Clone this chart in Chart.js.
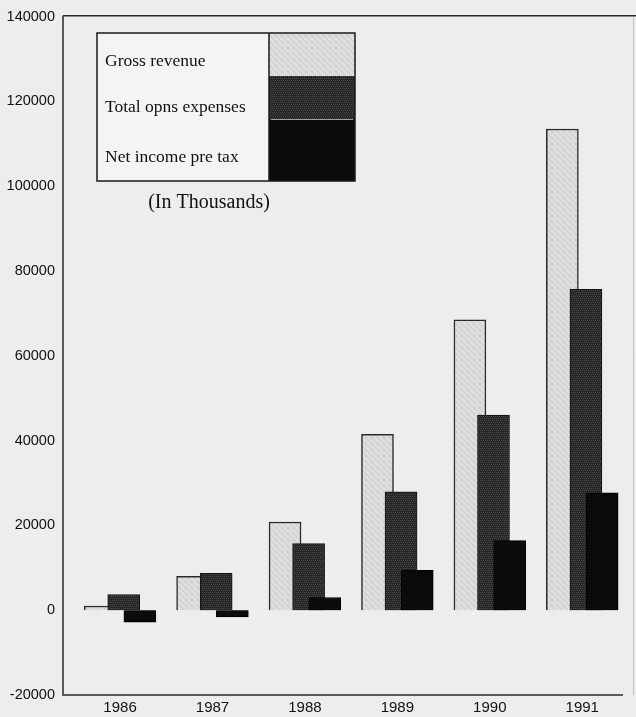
<!DOCTYPE html>
<html>
<head>
<meta charset="utf-8">
<script src="https://cdn.jsdelivr.net/npm/chart.js@4"></script>
<style>
  html, body { margin: 0; padding: 0; background: #ededed; }
  #wrap { width: 636px; height: 717px; }
</style>
</head>
<body>
<div id="wrap"><canvas id="mychart" width="636" height="717"></canvas></div>
<script>
// values in thousands
const years = [1986, 1987, 1988, 1989, 1990, 1991]
const grossRevenue = [1000, 8000, 20800, 41500, 68500, 113500]
const totalOpnsExpenses = [3700, 8700, 15700, 27900, 46000, 75700]
const netIncomePreTax = [-2800, -1600, 3000, 9400, 16400, 27700]
const seriesNames = ['Gross revenue', 'Total opns expenses', 'Net income pre tax']
const yTicks = [-20000, 0, 20000, 40000, 60000, 80000, 100000, 120000, 140000]

// little stipple textures so the bars look like the old print
function makePattern(base, dot, step){
    const c = document.createElement('canvas')
    c.width = 6
    c.height = 6
    const g = c.getContext('2d')
    g.fillStyle = base
    g.fillRect(0, 0, 6, 6)
    g.fillStyle = dot
    for(let y = 0; y < 6; y++){
        for(let x = 0; x < 6; x++){
            if((x * 2 + y * 3) % step === 0) g.fillRect(x, y, 1, 1)
        }
    }
    return g.createPattern(c, 'repeat')
}
const lightFill = makePattern('#dedede', '#cacaca', 5)
const darkFill = makePattern('#262626', '#4a4a4a', 4)
const blackFill = '#0b0b0b'

// bars overlap a bit inside each year, like the original
const offsets = [-0.215, 0.04, 0.215]
function points(values, off){
    return values.map((v, i) => ({x: years[i] + off, y: v}))
}

const serif = "'Liberation Serif', 'DejaVu Serif', serif"
const sans = "'Liberation Sans', Arial, sans-serif"

const frameAndLegend = {
    id: 'frameAndLegend',
    beforeDatasetsDraw(chart){
        const ctx = chart.ctx
        const a = chart.chartArea
        ctx.save()
        // faint right edge
        ctx.strokeStyle = '#c4c4c4'
        ctx.lineWidth = 1
        ctx.beginPath()
        ctx.moveTo(633.5, a.top)
        ctx.lineTo(633.5, a.bottom)
        ctx.stroke()
        ctx.strokeStyle = '#2a2a2a'
        ctx.lineWidth = 1.5
        ctx.beginPath()
        ctx.moveTo(a.left, a.top - 1)
        ctx.lineTo(636, a.top - 1)
        ctx.moveTo(a.left, a.top - 1)
        ctx.lineTo(a.left, a.bottom)
        ctx.lineTo(623, a.bottom)
        ctx.stroke()
        ctx.restore()
    },
    afterDraw(chart){
        const ctx = chart.ctx
        ctx.save()
        // legend box
        ctx.fillStyle = '#f4f4f4'
        ctx.fillRect(97, 33, 172, 148)
        ctx.fillStyle = lightFill
        ctx.fillRect(269, 33, 86, 43)
        ctx.fillStyle = darkFill
        ctx.fillRect(269, 76, 86, 44)
        ctx.fillStyle = blackFill
        ctx.fillRect(269, 120, 86, 61)
        ctx.strokeStyle = '#9a9a9a'
        ctx.lineWidth = 1
        ctx.beginPath()
        ctx.moveTo(271, 119.5)
        ctx.lineTo(353, 119.5)
        ctx.stroke()
        ctx.strokeStyle = '#1a1a1a'
        ctx.lineWidth = 1.5
        ctx.strokeRect(97, 33, 258, 148)
        ctx.beginPath()
        ctx.moveTo(269, 33)
        ctx.lineTo(269, 181)
        ctx.stroke()

        ctx.fillStyle = '#111'
        ctx.font = '17.5px ' + serif
        ctx.textBaseline = 'middle'
        ctx.textAlign = 'left'
        ctx.fillText(seriesNames[0], 105, 61)
        ctx.fillText(seriesNames[1], 105, 107)
        ctx.fillText(seriesNames[2], 105, 157)
        ctx.font = '20px ' + serif
        ctx.textAlign = 'center'
        ctx.fillText('(In Thousands)', 209, 203)
        ctx.restore()
    }
}

const data = {
    datasets: [
        {
            label: seriesNames[0],
            data: points(grossRevenue, offsets[0]),
            backgroundColor: lightFill,
            borderColor: '#2a2a2a',
            borderWidth: 1.5,
            order: 2
        },
        {
            label: seriesNames[1],
            data: points(totalOpnsExpenses, offsets[1]),
            backgroundColor: darkFill,
            borderColor: '#111',
            borderWidth: 1,
            order: 1
        },
        {
            label: seriesNames[2],
            data: points(netIncomePreTax, offsets[2]),
            backgroundColor: blackFill,
            borderColor: '#000',
            borderWidth: 1,
            order: 0
        }
    ]
}

const config = {
    type: 'bar',
    data: data,
    options: {
        responsive: false,
        animation: false,
        events: [],
        layout: { padding: { top: 13, right: 2, left: 0, bottom: 0 } },
        datasets: { bar: { grouped: false, barThickness: 32 } },
        plugins: { legend: { display: false }, tooltip: { enabled: false } },
        scales: {
            x: {
                type: 'linear',
                offset: false,
                min: years[0] - 0.617,
                max: years[years.length - 1] + 0.56,
                afterBuildTicks: (scale) => { scale.ticks = years.map(v => ({value: v})) },
                afterFit: (scale) => { scale.height = 22 },
                grid: { display: false, drawTicks: false, offset: false },
                border: { display: false },
                ticks: {
                    color: '#111',
                    font: { family: sans, size: 15 },
                    padding: 4,
                    maxRotation: 0,
                    callback: (v) => String(v)
                }
            },
            y: {
                min: yTicks[0],
                max: yTicks[yTicks.length - 1],
                afterBuildTicks: (scale) => { scale.ticks = yTicks.map(v => ({value: v})) },
                afterFit: (scale) => { scale.width = 63 },
                grid: { display: false, drawTicks: false },
                border: { display: false },
                ticks: {
                    color: '#111',
                    font: { family: sans, size: 14.5 },
                    padding: 8,
                    callback: (v) => String(v)
                }
            }
        }
    },
    plugins: [frameAndLegend]
}

const myChart = new Chart(document.getElementById('mychart'), config)
</script>
</body>
</html>
